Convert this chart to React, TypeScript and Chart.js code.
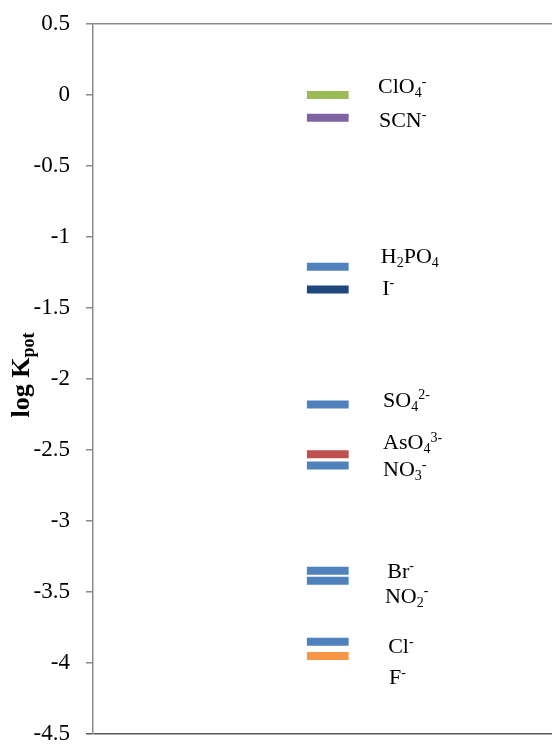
import React, { useEffect, useRef } from "react";
import { Chart, registerables } from "chart.js";

Chart.register(...registerables);

// Anions and their selectivity coefficients (log K_pot)
const IONS = [
  "ClO_{4}^{-}",
  "SCN^{-}",
  "H_{2}PO_{4}",
  "I^{-}",
  "SO_{4}^{2-}",
  "AsO_{4}^{3-}",
  "NO_{3}^{-}",
  "Br^{-}",
  "NO_{2}^{-}",
  "Cl^{-}",
  "F^{-}",
];
const LOG_K = [0, -0.16, -1.21, -1.37, -2.18, -2.53, -2.61, -3.35, -3.42, -3.85, -3.95];
const Y_TICKS = [0.5, 0, -0.5, -1, -1.5, -2, -2.5, -3, -3.5, -4, -4.5];

// Label anchors (x along the hidden 0..1 axis, y = baseline in log K units)
const LABEL_X = [0.621, 0.623, 0.627, 0.63, 0.632, 0.632, 0.632, 0.641, 0.636, 0.643, 0.645];
const LABEL_Y = [0.014, -0.225, -1.183, -1.408, -2.197, -2.493, -2.683, -3.401, -3.577, -3.93, -4.148];

const COLORS = [
  "#9BBB59",
  "#8064A2",
  "#4F81BD",
  "#1F497D",
  "#4F81BD",
  "#C0504D",
  "#4F81BD",
  "#4F81BD",
  "#4F81BD",
  "#4F81BD",
  "#F79646",
];

const FONT = "'Liberation Serif', 'Times New Roman', serif";
const MARK_FROM = 0.466;
const MARK_TO = 0.557;

type Run = { text: string; kind: "" | "sub" | "sup" };

function parseFormula(src: string): Run[] {
  const runs: Run[] = [];
  const re = /([_^])\{([^}]*)\}|([^_^]+)/g;
  let m: RegExpExecArray | null;
  while ((m = re.exec(src))) {
    if (m[3]) runs.push({ text: m[3], kind: "" });
    else runs.push({ text: m[2], kind: m[1] === "_" ? "sub" : "sup" });
  }
  return runs;
}

function drawRuns(
  ctx: CanvasRenderingContext2D,
  runs: Run[],
  x: number,
  y: number,
  size: number,
  smallSize: number,
  weight: string
) {
  let cx = x;
  for (const r of runs) {
    const s = r.kind ? smallSize : size;
    ctx.font = `${weight} ${s}px ${FONT}`;
    const dy = r.kind === "sub" ? size * 0.2 : r.kind === "sup" ? -size * 0.34 : 0;
    ctx.fillText(r.text, cx, y + dy);
    cx += ctx.measureText(r.text).width;
  }
  return cx - x;
}

function measureRuns(ctx: CanvasRenderingContext2D, runs: Run[], size: number, smallSize: number, weight: string) {
  let w = 0;
  for (const r of runs) {
    ctx.font = `${weight} ${r.kind ? smallSize : size}px ${FONT}`;
    w += ctx.measureText(r.text).width;
  }
  return w;
}

const ionLabels = {
  id: "ionLabels",
  afterDatasetsDraw(chart: any) {
    const { ctx, scales } = chart;
    ctx.save();
    ctx.fillStyle = "#000";
    ctx.textBaseline = "alphabetic";
    ctx.textAlign = "left";
    IONS.forEach((ion, i) => {
      const x = scales.x.getPixelForValue(LABEL_X[i]);
      const y = scales.y.getPixelForValue(LABEL_Y[i]);
      drawRuns(ctx, parseFormula(ion), x, y, 22, 14, "normal");
    });
    ctx.restore();
  },
};

const axisTitle = {
  id: "axisTitle",
  afterDraw(chart: any) {
    const { ctx } = chart;
    const runs = parseFormula("log K_{pot}");
    ctx.save();
    ctx.fillStyle = "#000";
    ctx.textBaseline = "alphabetic";
    ctx.textAlign = "left";
    const w = measureRuns(ctx, runs, 26, 18, "bold");
    ctx.translate(29, 375);
    ctx.rotate(-Math.PI / 2);
    drawRuns(ctx, runs, -w / 2, 0, 26, 18, "bold");
    ctx.restore();
  },
};

export default function App() {
  const canvasRef = useRef<HTMLCanvasElement | null>(null);

  useEffect(() => {
    if (!canvasRef.current) return;
    const datasets = IONS.map((ion, i) => ({
      label: ion,
      data: [
        { x: MARK_FROM, y: LOG_K[i] },
        { x: MARK_TO, y: LOG_K[i] },
      ],
      borderColor: COLORS[i],
      backgroundColor: COLORS[i],
      borderWidth: 8,
      borderCapStyle: "butt" as const,
      pointRadius: 0,
      pointHoverRadius: 0,
      fill: false,
    }));

    const lineColor = (ctx: any) => {
      const v = ctx.tick ? ctx.tick.value : null;
      if (v === 0.5) return "#898989";
      if (v === -4.5) return "#595959";
      return "rgba(0,0,0,0)";
    };

    const chart = new Chart(canvasRef.current, {
      type: "line",
      data: { datasets },
      options: {
        animation: false,
        responsive: false,
        maintainAspectRatio: false,
        layout: { padding: { top: 24, bottom: 11, left: 0, right: 0 } },
        plugins: {
          legend: { display: false },
          tooltip: { enabled: false },
          title: { display: false },
        },
        scales: {
          x: {
            type: "linear",
            min: 0,
            max: 1,
            display: false,
          },
          y: {
            type: "linear",
            min: -4.5,
            max: 0.5,
            afterBuildTicks: (scale: any) => {
              scale.ticks = Y_TICKS.map((v) => ({ value: v }));
            },
            afterFit: (scale: any) => {
              scale.width = 93;
              scale.paddingTop = 0;
              scale.paddingBottom = 0;
            },
            ticks: {
              color: "#000",
              padding: 16,
              font: { family: FONT, size: 23 },
              callback: (v: any) => String(v),
            },
            grid: {
              drawOnChartArea: true,
              color: lineColor,
              tickColor: (ctx: any) => (ctx.tick && ctx.tick.value === -4.5 ? "#595959" : "#898989"),
              tickLength: 7,
              lineWidth: 1.5,
            },
            border: { display: true, color: "#898989", width: 1.5 },
          },
        },
      },
      plugins: [ionLabels, axisTitle],
    });
    return () => chart.destroy();
  }, []);

  return (
    <div style={{ position: "absolute", left: 0, top: 0, width: 552, height: 745, background: "#fff" }}>
      <canvas ref={canvasRef} width={552} height={745} style={{ display: "block", width: 552, height: 745 }} />
    </div>
  );
}
